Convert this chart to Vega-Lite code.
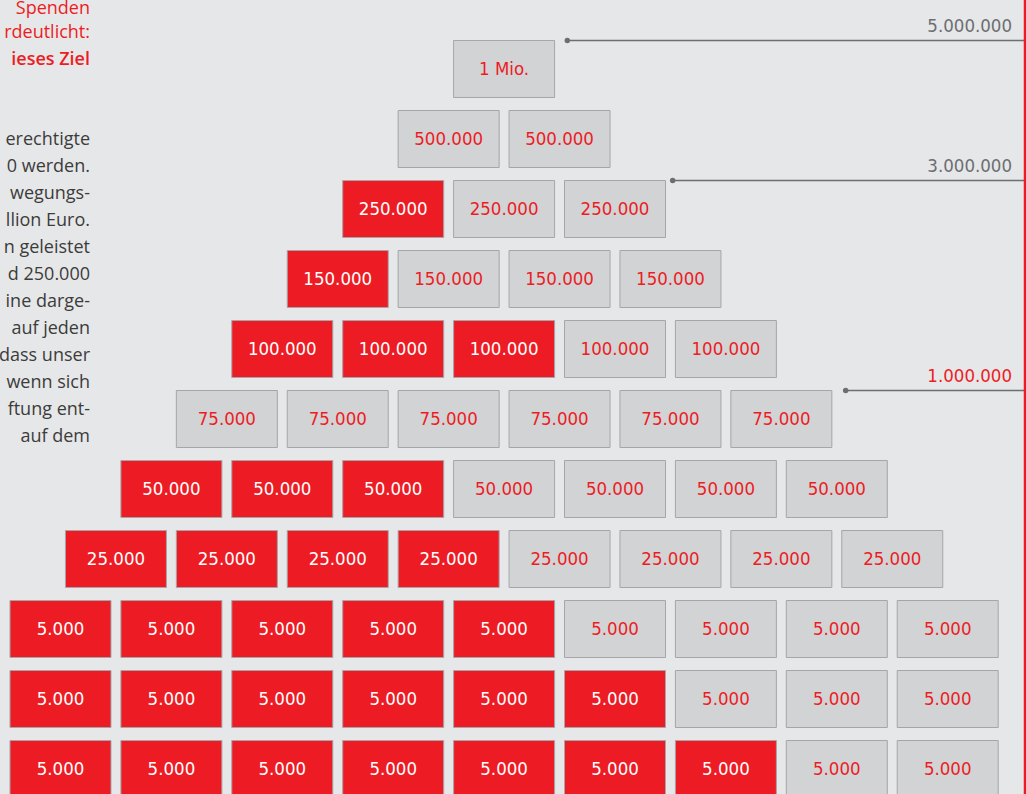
{
  "$schema": "https://vega.github.io/schema/vega-lite/v6.json",
  "width": 1026,
  "height": 794,
  "padding": 0,
  "autosize": {"type": "none"},
  "background": "#E6E7E8",
  "config": {"view": {"stroke": null}},
  "datasets": {
    "cells": [
      {"row": 0, "col": 4, "label": "1 Mio.", "paid": "nein"},
      {"row": 1, "col": 3.5, "label": "500.000", "paid": "nein"},
      {"row": 1, "col": 4.5, "label": "500.000", "paid": "nein"},
      {"row": 2, "col": 3, "label": "250.000", "paid": "ja"},
      {"row": 2, "col": 4, "label": "250.000", "paid": "nein"},
      {"row": 2, "col": 5, "label": "250.000", "paid": "nein"},
      {"row": 3, "col": 2.5, "label": "150.000", "paid": "ja"},
      {"row": 3, "col": 3.5, "label": "150.000", "paid": "nein"},
      {"row": 3, "col": 4.5, "label": "150.000", "paid": "nein"},
      {"row": 3, "col": 5.5, "label": "150.000", "paid": "nein"},
      {"row": 4, "col": 2, "label": "100.000", "paid": "ja"},
      {"row": 4, "col": 3, "label": "100.000", "paid": "ja"},
      {"row": 4, "col": 4, "label": "100.000", "paid": "ja"},
      {"row": 4, "col": 5, "label": "100.000", "paid": "nein"},
      {"row": 4, "col": 6, "label": "100.000", "paid": "nein"},
      {"row": 5, "col": 1.5, "label": "75.000", "paid": "nein"},
      {"row": 5, "col": 2.5, "label": "75.000", "paid": "nein"},
      {"row": 5, "col": 3.5, "label": "75.000", "paid": "nein"},
      {"row": 5, "col": 4.5, "label": "75.000", "paid": "nein"},
      {"row": 5, "col": 5.5, "label": "75.000", "paid": "nein"},
      {"row": 5, "col": 6.5, "label": "75.000", "paid": "nein"},
      {"row": 6, "col": 1, "label": "50.000", "paid": "ja"},
      {"row": 6, "col": 2, "label": "50.000", "paid": "ja"},
      {"row": 6, "col": 3, "label": "50.000", "paid": "ja"},
      {"row": 6, "col": 4, "label": "50.000", "paid": "nein"},
      {"row": 6, "col": 5, "label": "50.000", "paid": "nein"},
      {"row": 6, "col": 6, "label": "50.000", "paid": "nein"},
      {"row": 6, "col": 7, "label": "50.000", "paid": "nein"},
      {"row": 7, "col": 0.5, "label": "25.000", "paid": "ja"},
      {"row": 7, "col": 1.5, "label": "25.000", "paid": "ja"},
      {"row": 7, "col": 2.5, "label": "25.000", "paid": "ja"},
      {"row": 7, "col": 3.5, "label": "25.000", "paid": "ja"},
      {"row": 7, "col": 4.5, "label": "25.000", "paid": "nein"},
      {"row": 7, "col": 5.5, "label": "25.000", "paid": "nein"},
      {"row": 7, "col": 6.5, "label": "25.000", "paid": "nein"},
      {"row": 7, "col": 7.5, "label": "25.000", "paid": "nein"},
      {"row": 8, "col": 0, "label": "5.000", "paid": "ja"},
      {"row": 8, "col": 1, "label": "5.000", "paid": "ja"},
      {"row": 8, "col": 2, "label": "5.000", "paid": "ja"},
      {"row": 8, "col": 3, "label": "5.000", "paid": "ja"},
      {"row": 8, "col": 4, "label": "5.000", "paid": "ja"},
      {"row": 8, "col": 5, "label": "5.000", "paid": "nein"},
      {"row": 8, "col": 6, "label": "5.000", "paid": "nein"},
      {"row": 8, "col": 7, "label": "5.000", "paid": "nein"},
      {"row": 8, "col": 8, "label": "5.000", "paid": "nein"},
      {"row": 9, "col": 0, "label": "5.000", "paid": "ja"},
      {"row": 9, "col": 1, "label": "5.000", "paid": "ja"},
      {"row": 9, "col": 2, "label": "5.000", "paid": "ja"},
      {"row": 9, "col": 3, "label": "5.000", "paid": "ja"},
      {"row": 9, "col": 4, "label": "5.000", "paid": "ja"},
      {"row": 9, "col": 5, "label": "5.000", "paid": "ja"},
      {"row": 9, "col": 6, "label": "5.000", "paid": "nein"},
      {"row": 9, "col": 7, "label": "5.000", "paid": "nein"},
      {"row": 9, "col": 8, "label": "5.000", "paid": "nein"},
      {"row": 10, "col": 0, "label": "5.000", "paid": "ja"},
      {"row": 10, "col": 1, "label": "5.000", "paid": "ja"},
      {"row": 10, "col": 2, "label": "5.000", "paid": "ja"},
      {"row": 10, "col": 3, "label": "5.000", "paid": "ja"},
      {"row": 10, "col": 4, "label": "5.000", "paid": "ja"},
      {"row": 10, "col": 5, "label": "5.000", "paid": "ja"},
      {"row": 10, "col": 6, "label": "5.000", "paid": "ja"},
      {"row": 10, "col": 7, "label": "5.000", "paid": "nein"},
      {"row": 10, "col": 8, "label": "5.000", "paid": "nein"}
    ],
    "levels": [
      {"row": 0, "from": 4.57, "label": "5.000.000", "reached": false},
      {"row": 2, "from": 5.52, "label": "3.000.000", "reached": false},
      {"row": 5, "from": 7.08, "label": "1.000.000", "reached": true}
    ],
    "intro": [
      {"line": -4.85, "text": "Spenden"},
      {"line": -3.98, "text": "rdeutlicht:"}
    ],
    "introBold": [
      {"line": -2.96, "text": "ieses Ziel"}
    ],
    "body": [
      {"line": 0, "text": "erechtigte"},
      {"line": 1, "text": "0  werden."},
      {"line": 2, "text": "wegungs-"},
      {"line": 3, "text": "llion Euro."},
      {"line": 4, "text": "n  geleistet"},
      {"line": 5, "text": "d 250.000"},
      {"line": 6, "text": "ine darge-"},
      {"line": 7, "text": "auf  jeden"},
      {"line": 8, "text": "dass unser"},
      {"line": 9, "text": "wenn  sich"},
      {"line": 10, "text": "ftung ent-"},
      {"line": 11, "text": "auf  dem"}
    ]
  },
  "resolve": {"scale": {"y": "independent", "color": "independent"}},
  "layer": [
    {
      "data": {"name": "cells"},
      "mark": {"type": "rect", "width": 101, "height": 57, "stroke": "#A4A6A9", "strokeWidth": 1},
      "encoding": {
        "x": {"field": "col", "type": "quantitative", "scale": {"domain": [-0.5455, 8.706], "nice": false, "zero": false}, "axis": null},
        "y": {"field": "row", "type": "quantitative", "scale": {"domain": [10.357, -0.9857], "nice": false, "zero": false}, "axis": null},
        "color": {"field": "paid", "type": "nominal", "scale": {"domain": ["ja", "nein"], "range": ["#ED1C24", "#D1D3D4"]}, "legend": null}
      }
    },
    {
      "data": {"name": "cells"},
      "mark": {"type": "text", "font": "DejaVu Sans Condensed, sans-serif", "fontSize": 18.5, "align": "center", "baseline": "middle"},
      "encoding": {
        "x": {"field": "col", "type": "quantitative", "scale": {"domain": [-0.5455, 8.706], "nice": false, "zero": false}, "axis": null},
        "y": {"field": "row", "type": "quantitative", "scale": {"domain": [10.357, -0.9857], "nice": false, "zero": false}, "axis": null},
        "text": {"field": "label"},
        "color": {"condition": {"test": "datum.paid === 'ja'", "value": "#FFFFFF"}, "value": "#ED1C24"}
      }
    },
    {
      "data": {"name": "levels"},
      "mark": {"type": "rule", "yOffset": -28.5, "color": "#6D6E71", "strokeWidth": 1.5},
      "encoding": {
        "x": {"field": "from", "type": "quantitative", "scale": {"domain": [-0.5455, 8.706], "nice": false, "zero": false}, "axis": null},
        "x2": {"datum": 8.72},
        "y": {"field": "row", "type": "quantitative", "scale": {"domain": [10.357, -0.9857], "nice": false, "zero": false}, "axis": null}
      }
    },
    {
      "data": {"name": "levels"},
      "mark": {"type": "point", "filled": true, "size": 30, "opacity": 1, "yOffset": -28.5, "color": "#6D6E71"},
      "encoding": {
        "x": {"field": "from", "type": "quantitative", "scale": {"domain": [-0.5455, 8.706], "nice": false, "zero": false}, "axis": null},
        "y": {"field": "row", "type": "quantitative", "scale": {"domain": [10.357, -0.9857], "nice": false, "zero": false}, "axis": null}
      }
    },
    {
      "data": {"name": "levels"},
      "mark": {"type": "text", "font": "DejaVu Sans Condensed, sans-serif", "fontSize": 18.5, "align": "right", "baseline": "middle", "yOffset": -43},
      "encoding": {
        "x": {"datum": 8.58, "type": "quantitative", "scale": {"domain": [-0.5455, 8.706], "nice": false, "zero": false}, "axis": null},
        "y": {"field": "row", "type": "quantitative", "scale": {"domain": [10.357, -0.9857], "nice": false, "zero": false}, "axis": null},
        "text": {"field": "label"},
        "color": {"condition": {"test": "datum.reached", "value": "#ED1C24"}, "value": "#6D6E71"}
      }
    },
    {
      "data": {"values": [{}]},
      "mark": {"type": "rule", "color": "#ED1C24", "strokeWidth": 2.5},
      "encoding": {
        "x": {"datum": 8.697, "type": "quantitative", "scale": {"domain": [-0.5455, 8.706], "nice": false, "zero": false}, "axis": null}
      }
    },
    {
      "data": {"name": "intro"},
      "mark": {"type": "text", "font": "Open Sans", "fontSize": 18, "align": "right", "baseline": "middle", "color": "#ED1C24"},
      "encoding": {
        "x": {"datum": 0.266, "type": "quantitative", "scale": {"domain": [-0.5455, 8.706], "nice": false, "zero": false}, "axis": null},
        "y": {"field": "line", "type": "quantitative", "scale": {"domain": [24.222, -5.185], "nice": false, "zero": false}, "axis": null},
        "text": {"field": "text"}
      }
    },
    {
      "data": {"name": "introBold"},
      "mark": {"type": "text", "font": "Open Sans", "fontSize": 18, "fontWeight": 600, "align": "right", "baseline": "middle", "color": "#ED1C24"},
      "encoding": {
        "x": {"datum": 0.266, "type": "quantitative", "scale": {"domain": [-0.5455, 8.706], "nice": false, "zero": false}, "axis": null},
        "y": {"field": "line", "type": "quantitative", "scale": {"domain": [24.222, -5.185], "nice": false, "zero": false}, "axis": null},
        "text": {"field": "text"}
      }
    },
    {
      "data": {"name": "body"},
      "mark": {"type": "text", "font": "Open Sans", "fontSize": 18, "align": "right", "baseline": "middle", "color": "#3C3C3B"},
      "encoding": {
        "x": {"datum": 0.266, "type": "quantitative", "scale": {"domain": [-0.5455, 8.706], "nice": false, "zero": false}, "axis": null},
        "y": {"field": "line", "type": "quantitative", "scale": {"domain": [24.222, -5.185], "nice": false, "zero": false}, "axis": null},
        "text": {"field": "text"}
      }
    }
  ]
}
